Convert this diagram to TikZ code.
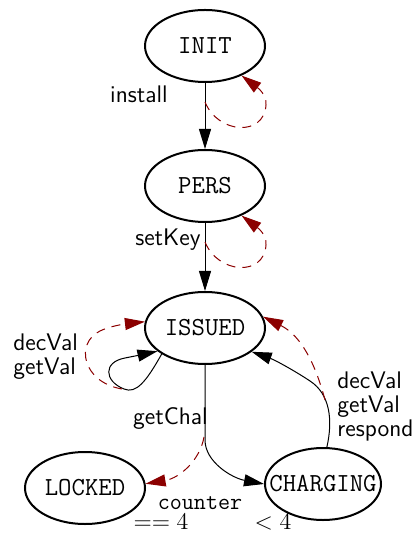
\documentclass[tikz,border=0pt]{standalone}
\usetikzlibrary{shapes.geometric,arrows.meta}
\definecolor{darkred}{RGB}{139,0,0}
\begin{document}
\begin{tikzpicture}[x=0.5pt,y=-0.5pt,
 state/.style={draw,ellipse,line width=1pt,minimum width=60pt,minimum height=36pt,inner sep=0pt,font=\fontsize{13}{15}\selectfont\ttfamily},
 tr/.style={line width=0.5pt,-{Triangle[length=10pt,width=6pt]}},
 sec/.style={draw=darkred,dash pattern=on 4.5pt off 3.5pt,line width=0.5pt,-{Triangle[length=10pt,width=6pt,fill=darkred]}},
 lbl/.style={font=\fontsize{12}{12}\selectfont\sffamily,inner sep=0pt,align=left},
 mlbl/.style={font=\fontsize{12}{12}\selectfont,inner sep=0pt}]
\useasboundingbox (0,0) rectangle (417,533);
\node[state] (init) at (205,46) {\makebox[0pt]{INIT}};
\node[state] (pers) at (205,186) {\makebox[0pt]{PERS}};
\node[state] (issued) at (205,328) {\makebox[0pt]{ISSUED}};
\node[state] (locked) at (85,488) {\makebox[0pt]{LOCKED}};
\node[state,minimum width=58pt] (charging) at (323,484) {\makebox[0pt]{CHARGING}};

% INIT -> PERS
\draw[tr] (init) -- (pers);
\coordinate (c1) at (205,102);
\draw[sec] (c1) .. controls (218,134) and (264,137) .. (266,105) .. controls (267,95) and (258,88) .. (init.-39);
\node[lbl,anchor=east] (l1) at (168,94) {install};

% PERS -> ISSUED
\draw[tr] (pers) -- (issued);
\coordinate (c2) at (205,242);
\draw[sec] (c2) .. controls (218,274) and (264,277) .. (266,245) .. controls (267,235) and (258,228) .. (pers.-39);
\node[lbl,anchor=east] (l2) at (201,240) {setKey};

% ISSUED self loop
\draw[tr] (issued.211) .. controls (146,382) and (136,394) .. (124,389) .. controls (104,381) and (103,362) .. (125,358) .. controls (135,356) and (145,354) .. (issued.206);
\coordinate (c3) at (122,389);
\draw[sec] (c3) .. controls (82,382) and (75,343) .. (100,331) .. controls (110,326) and (125,324) .. (issued.174);
\node[lbl,anchor=west] (l3) at (13,357) {decVal\\getVal};

% ISSUED -> CHARGING
\coordinate (c4) at (205,440);
\draw[tr] (issued.south) -- (c4) .. controls (205,462) and (232,478) .. (charging.west);
\coordinate (c5) at (204,437);
\draw[sec] (c5) .. controls (200,460) and (180,478) .. (locked.4);
\node[lbl,anchor=east] (l4) at (208,418) {getChal};

% CHARGING -> ISSUED
\coordinate (c6) at (310,381);
\draw[tr] (charging.84) .. controls (333,420) and (330,394) .. (c6) .. controls (295,371) and (275,360) .. (issued.-27);
\coordinate (c7) at (325,400);
\draw[sec] (c7) .. controls (316,366) and (302,336) .. (issued.11);
\node[lbl,anchor=west] (l5) at (337,406) {decVal\\getVal\\respond};

% guards
\node[font=\fontsize{11.7}{13}\selectfont\ttfamily,inner sep=0pt] (g1) at (200,503) {counter};
\node[mlbl] (g2) at (161,522) {$==4$};
\node[mlbl] (g3) at (273,522) {$<4$};
\end{tikzpicture}
\end{document}
